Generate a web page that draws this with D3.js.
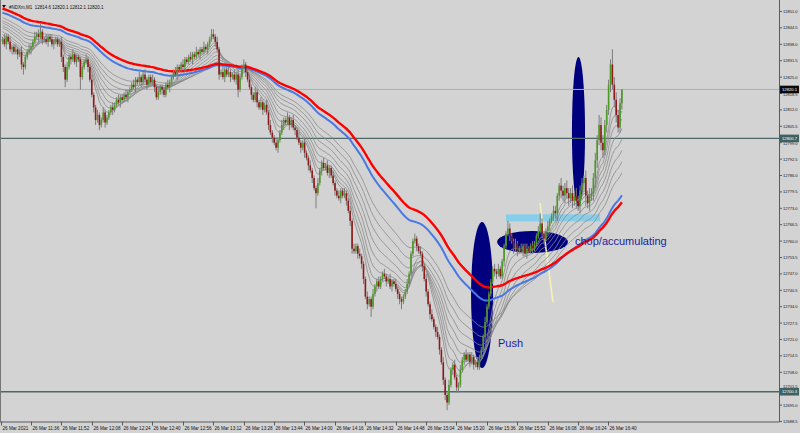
<!DOCTYPE html>
<html><head><meta charset="utf-8">
<script src="https://cdn.jsdelivr.net/npm/d3@7"></script>
<style>html,body{margin:0;padding:0;background:#d3d3d3;}svg{display:block;}</style>
</head><body><svg id="c" width="800" height="433"></svg>
<script>
// ---- data (M1 bars, 26 Mar 2021 11:20 .. 16:46) ----
const firstOpen = 12839;
const closes = [
12840,12838,12841,12839,12836,12837,12835,12836,12834,12835,
12830,12829,12833,12835,12836,12837,12839,12841,12842,12841,
12843,12840,12840,12839,12841,12840,12838,12839,12840,12838,
12839,12833,12829,12824,12829,12833,12832,12834,12831,12833,
12832,12825,12829,12831,12832,12829,12824,12818,12813,12808,
12810,12806,12808,12811,12807,12809,12811,12813,12812,12814,
12816,12815,12817,12816,12818,12817,12819,12820,12822,12821,
12824,12823,12825,12823,12826,12824,12822,12825,12823,12824,
12821,12817,12819,12821,12820,12818,12822,12821,12823,12825,
12827,12826,12829,12828,12830,12829,12832,12831,12833,12832,
12834,12833,12835,12834,12836,12835,12837,12836,12838,12840,
12842,12841,12839,12836,12826,12827,12825,12828,12826,12827,
12825,12826,12824,12826,12820,12825,12829,12830,12827,12824,
12821,12818,12816,12819,12815,12813,12815,12812,12814,12811,
12806,12803,12801,12799,12797,12800,12803,12806,12808,12807,
12809,12806,12808,12805,12804,12801,12799,12797,12799,12795,
12793,12790,12788,12785,12781,12779,12783,12788,12791,12789,
12790,12787,12789,12786,12783,12780,12778,12777,12780,12778,
12779,12776,12772,12768,12757,12756,12758,12755,12754,12751,
12745,12738,12735,12737,12734,12739,12742,12744,12742,12745,
12747,12746,12744,12745,12742,12744,12743,12741,12739,12737,
12736,12738,12740,12743,12747,12755,12760,12761,12758,12756,
12755,12750,12745,12740,12735,12731,12729,12726,12724,12722,
12717,12712,12705,12699,12696,12703,12709,12711,12706,12702,
12703,12709,12713,12715,12713,12715,12712,12714,12711,12712,
12710,12714,12717,12722,12728,12734,12739,12744,12749,12748,
12747,12749,12746,12752,12758,12763,12765,12762,12760,12757,
12759,12756,12757,12756,12758,12755,12757,12756,12758,12757,
12759,12762,12764,12767,12763,12761,12764,12766,12768,12770,
12772,12771,12778,12782,12780,12778,12781,12779,12777,12779,
12776,12778,12776,12774,12780,12783,12785,12778,12775,12778,
12779,12785,12792,12800,12806,12799,12796,12806,12812,12822,
12830,12822,12816,12810,12805,12814.6,12820.1];
const wickUp = [
1,2,1,1,2,1,1,2,1,1, 2,1,1,1,2,1,1,2,1,2, 3,1,1,2,1,1,2,1,1,1, 1,2,1,1,2,1,1,2,1,1,
1,1,1,1,2,1,1,2,1,1, 2,1,1,2,1,1,1,1,2,1, 1,2,1,1,1,2,1,1,1,2, 1,1,2,1,1,2,1,1,1,2,
1,1,2,1,1,1,1,2,1,1, 1,2,1,1,1,2,1,1,1,2, 1,1,2,1,1,1,2,1,1,1, 2,2,1,2,1,1,2,1,1,2,
1,1,2,1,2,1,1,2,1,1, 2,1,1,2,1,1,2,1,1,2, 1,2,1,1,2,1,1,2,1,1, 2,1,1,2,1,1,2,1,1,2,
1,1,2,1,1,1,2,1,1,2, 1,2,1,1,2,1,1,2,1,1, 2,1,1,2,1,2,1,1,2,1, 1,1,2,1,1,2,1,1,2,1,
1,2,1,1,2,1,1,2,1,1, 1,1,1,2,1,1,1,2,1,1, 2,1,1,2,1,1,2,1,1,2, 1,1,2,1,1,2,1,1,2,1,
1,2,1,1,2,1,1,2,1,1, 2,1,1,1,2,1,1,1,1,2, 1,2,1,1,1,1,3,2,1,1, 2,1,1,2,1,1,2,1,1,2,
1,1,2,4,2,1,1,2,1,1, 2,2,1,1,3,2,2,3,2,2, 3,2,3,2,2,2,1,3,2,3, 2,2,3,2,4,3,3,2,2,2,
2,6,3,3,2,2,0];
const wickDn = [
1,1,2,1,1,2,1,1,2,1, 2,3,1,1,1,2,1,1,1,2, 1,2,1,1,2,1,1,2,1,1, 1,2,2,3,1,1,2,1,1,2,
1,5,1,1,1,2,1,1,2,2, 1,2,1,1,2,1,1,1,2,1, 1,1,2,1,1,1,2,1,1,1, 2,1,1,2,1,1,2,1,1,1,
2,1,1,1,2,1,1,1,2,1, 1,1,2,1,1,1,2,1,1,1, 2,1,1,1,2,1,1,1,2,1, 1,1,2,1,2,1,1,2,1,1,
2,1,1,2,3,1,1,1,2,1, 1,2,1,1,2,1,1,2,1,1, 2,1,2,1,1,2,1,1,2,1, 1,2,1,1,2,1,1,2,1,2,
1,2,1,2,1,6,1,1,2,1, 1,1,2,1,1,2,1,1,2,1, 1,2,1,2,2,1,1,2,1,2, 2,1,2,1,4,1,1,2,1,1,
1,1,2,1,1,2,1,1,2,2, 3,1,1,1,1,1,1,1,2,1, 1,2,1,2,1,2,1,1,2,1, 2,1,2,2,3,1,1,2,1,2,
2,1,1,2,1,1,2,1,2,1, 1,1,1,1,2,1,1,1,1,2, 2,1,1,1,2,1,1,2,1,2, 1,2,1,1,2,1,2,1,1,2,
1,1,1,1,2,2,1,1,2,1, 2,2,3,2,3,2,3,2,3,2, 3,2,3,2,3,2,3,4,2,3, 2,3,4,3,2,3,3,2,3,2,
3,2,3,3,2,2,2.5];
const timeLabels = ["26 Mar 2021","26 Mar 11:36","26 Mar 11:52","26 Mar 12:08","26 Mar 12:24","26 Mar 12:40",
"26 Mar 12:56","26 Mar 13:12","26 Mar 13:28","26 Mar 13:44","26 Mar 14:00","26 Mar 14:16","26 Mar 14:32",
"26 Mar 14:48","26 Mar 15:04","26 Mar 15:20","26 Mar 15:36","26 Mar 15:52","26 Mar 16:08","26 Mar 16:24","26 Mar 16:40"];
const timeLabelBars = [0,16,32,48,64,80,96,112,128,144,160,176,192,208,224,240,256,272,288,304,320];
const priceTicks = [12851.0,12844.5,12838.0,12831.5,12825.0,12818.5,12812.0,12805.5,12799.0,12792.5,12786.0,
12779.5,12773.0,12766.5,12760.0,12753.5,12747.0,12740.5,12734.0,12727.5,12721.0,12714.5,12708.0,12701.5,12695.0,12688.5];
const bidPrice = 12820.1;
const levelPrices = [12800.7, 12700.3];
const ribbonPeriods = [8,11,15,20,26,33,41,50];
const ribbonSeeds = [12840.7,12841.9,12843.1,12844.7,12845.5,12846.6,12847.4,12848.6];
const bluePeriod = 76, blueSeed = 12850.6;
const redPeriod = 90, redSeed = 12852.2;
const titleText = "#NDXm,M1  12814.6 12820.1 12812.1 12820.1";
// annotation objects anchored in (bar, price)
const ellipses = [ {b0:246.6,b1:258.2,p0:12767.6,p1:12709.7},
                   {b0:260.3,b1:297.6,p0:12764.0,p1:12755.3},
                   {b0:299.7,b1:306.6,p0:12833.0,p1:12773.5} ];
const zoneRect = {b0:265, b1:314.5, p0:12770.6, p1:12767.8};
const trendLine = {b0:282.9, p0:12775.1, b1:289.7, p1:12735.9};
const notes = [ {text:"Push", b:260.8, p:12718.0}, {text:"chop/accumulating", b:301.3, p:12758.3} ];

// ---- chart ----
const svg = d3.select("#c");
const W = 800, H = 433, plotR = 779, plotB = 421.5;
const x = d3.scaleLinear().domain([0, closes.length-1]).range([2.5, 2.5 + 1.9*(closes.length-1)]);
const y = d3.scaleLinear().domain([12688.5, 12851]).range([421.5, 11.5]);

svg.append("rect").attr("width",W).attr("height",H).attr("fill","#d3d3d3");
svg.append("defs").append("clipPath").attr("id","pc").append("rect").attr("x",0).attr("y",0).attr("width",plotR).attr("height",plotB);
const g = svg.append("g").attr("clip-path","url(#pc)");

// objects (background)
ellipses.forEach(e=>{
  const cx=(x(e.b0)+x(e.b1))/2, cy=(y(e.p0)+y(e.p1))/2;
  g.append("ellipse").attr("cx",cx).attr("cy",cy).attr("rx",Math.abs(x(e.b1)-x(e.b0))/2).attr("ry",Math.abs(y(e.p1)-y(e.p0))/2).attr("fill","#00007f");
});
g.append("rect").attr("x",x(zoneRect.b0)).attr("y",y(zoneRect.p0)).attr("width",x(zoneRect.b1)-x(zoneRect.b0)).attr("height",y(zoneRect.p1)-y(zoneRect.p0)).attr("fill","#87ceeb");
g.append("line").attr("x1",x(trendLine.b0)).attr("y1",y(trendLine.p0)).attr("x2",x(trendLine.b1)).attr("y2",y(trendLine.p1)).attr("stroke","#f6f2b4").attr("stroke-width",1.6);

// horizontal levels
g.append("line").attr("x1",0).attr("x2",plotR).attr("y1",y(bidPrice)).attr("y2",y(bidPrice)).attr("stroke","#b0b0b0").attr("stroke-width",1);
levelPrices.forEach(p=>g.append("line").attr("x1",0).attr("x2",plotR).attr("y1",y(p)).attr("y2",y(p)).attr("stroke","#4e6868").attr("stroke-width",1.4));

// moving averages (EMA ribbon computed from the closes)
function ema(vals, period, seed){ const a=2/(period+1); let e=seed; return vals.map((v,i)=>{ if(i>0) e = e + a*(v-e); return e; }); }
const line = d3.line().x((d,i)=>x(i)).y(d=>y(d));
ribbonPeriods.forEach((per,k)=>{
  g.append("path").attr("d",line(ema(closes,per,ribbonSeeds[k]))).attr("fill","none").attr("stroke","#8a8a8a").attr("stroke-width",0.8);
});
g.append("path").attr("d",line(ema(closes,bluePeriod,blueSeed))).attr("fill","none").attr("stroke","#4a78e2").attr("stroke-width",2);
g.append("path").attr("d",line(ema(closes,redPeriod,redSeed))).attr("fill","none").attr("stroke","#ff0000").attr("stroke-width",2.4);

// candles
const bars = closes.map((c,i)=>{ const o = i? closes[i-1] : firstOpen; return {i,o,c,h:Math.max(o,c)+wickUp[i],l:Math.min(o,c)-wickDn[i]}; });
const cg = g.append("g");
cg.selectAll("line.w").data(bars).join("line").attr("class","w")
  .attr("x1",d=>x(d.i)).attr("x2",d=>x(d.i)).attr("y1",d=>y(d.h)).attr("y2",d=>y(d.l))
  .attr("stroke","#7c7c7c").attr("stroke-width",1);
cg.selectAll("rect.b").data(bars).join("rect").attr("class","b")
  .attr("x",d=>x(d.i)-0.8).attr("width",1.6)
  .attr("y",d=>y(Math.max(d.o,d.c))).attr("height",d=>Math.max(0.8, Math.abs(y(d.o)-y(d.c))))
  .attr("fill",d=>d.c>=d.o ? "#4b9a22" : "#8e1b1b");

// notes
notes.forEach(n=>svg.append("text").attr("x",x(n.b)).attr("y",y(n.p)).text(n.text)
  .attr("font-family","Liberation Sans, Arial, sans-serif").attr("font-size",11).attr("fill","#1c1ca0"));

// axes
svg.append("line").attr("x1",plotR+0.5).attr("x2",plotR+0.5).attr("y1",0).attr("y2",plotB).attr("stroke","#5a5a5a");
svg.append("line").attr("x1",0).attr("x2",plotR+0.5).attr("y1",plotB+0.5).attr("y2",plotB+0.5).attr("stroke","#5a5a5a");
svg.append("line").attr("x1",0.5).attr("x2",0.5).attr("y1",0).attr("y2",plotB).attr("stroke","#777");
const fnt = "Liberation Sans, Arial, sans-serif";
const markers = [{p:bidPrice,bg:"#0a0a0a"},{p:levelPrices[0],bg:"#3f6161"},{p:levelPrices[1],bg:"#3f6161"}];
priceTicks.forEach(p=>{
  svg.append("line").attr("x1",plotR).attr("x2",plotR+3).attr("y1",y(p)).attr("y2",y(p)).attr("stroke","#5a5a5a");
  let dy = 0;
  markers.forEach(m=>{ const d = y(p)-y(m.p); if(Math.abs(d)<7) dy = d<0 ? -1.8 : 0.6; });
  svg.append("text").attr("x",783).attr("y",y(p)+1.4+dy).text(p.toFixed(1)).attr("font-family",fnt).attr("font-size",4).attr("fill","#111");
});
timeLabels.forEach((t,k)=>{
  const xx = Math.round(x(timeLabelBars[k]))-1.5;
  svg.append("line").attr("x1",xx).attr("x2",xx).attr("y1",plotB).attr("y2",plotB+4).attr("stroke","#5a5a5a");
  svg.append("text").attr("x",xx+1).attr("y",430).text(t).attr("font-family",fnt).attr("font-size",4.6).attr("fill","#111");
});
// price marker labels
markers.forEach(m=>{
  svg.append("rect").attr("x",780).attr("y",y(m.p)-3.8).attr("width",19).attr("height",7.6).attr("fill",m.bg);
  svg.append("text").attr("x",782).attr("y",y(m.p)+1.5).text(m.p.toFixed(1)).attr("font-family",fnt).attr("font-size",4.2).attr("fill","#fff");
});
// title
svg.append("path").attr("d","M2,5 L6,5 L4,8 Z").attr("fill","#111");
svg.append("text").attr("x",9).attr("y",8.5).text(titleText).attr("font-family",fnt).attr("font-size",4.5).attr("fill","#111").attr("xml:space","preserve");
</script></body></html>
